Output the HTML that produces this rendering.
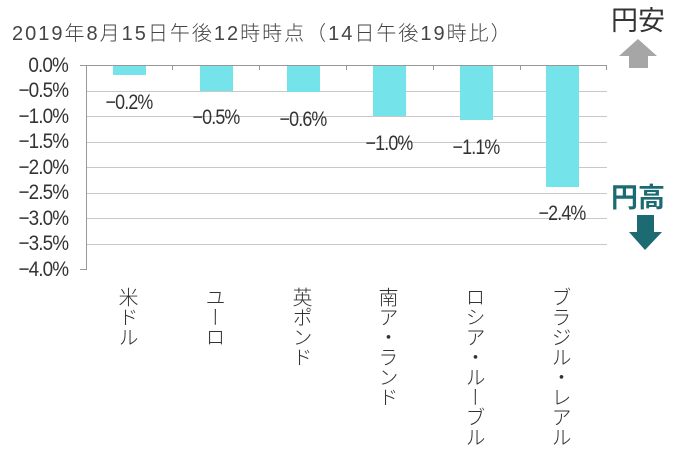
<!DOCTYPE html>
<html><head><meta charset="utf-8"><style>
body{margin:0;background:#fff;width:679px;height:453px;overflow:hidden;position:relative;font-family:"Liberation Sans","Noto Sans CJK JP",sans-serif;color:#333}
.t{position:absolute;white-space:nowrap}
.yl{position:absolute;right:611px;font-size:21px;letter-spacing:-1px;line-height:18px;color:#333;transform:scaleX(0.9);transform-origin:right center}
.g{position:absolute;left:86px;width:521px;height:1px;background:#c8c8c8}
.bar{position:absolute;width:33px;background:#74e3ea;top:66px}
.vl{position:absolute;line-height:21px;width:21px;font-size:20px;top:287px;writing-mode:vertical-rl;font-family:"Noto Sans CJK JP",sans-serif;font-weight:300;color:#333}
.dl{position:absolute;width:80px;text-align:center;font-size:21px;letter-spacing:-1px;color:#333;transform:scaleX(0.85)}
</style></head><body>
<div class="t" style="left:12px;top:17px;font-size:20px;color:#444;letter-spacing:2px;font-family:'Liberation Sans','Noto Sans CJK JP',sans-serif;font-weight:300">2019年8月15日午後12時時点（14日午後19時比）</div>
<div class="t" style="left:611px;top:3px;font-size:27px;color:#333;font-family:'Noto Sans CJK JP',sans-serif;line-height:32px">円安</div>
<svg style="position:absolute;left:619px;top:39px" width="40" height="30"><polygon points="19,0 38,17 29,17 29,29 10,29 10,17 0,17" fill="#a6a6a6"/></svg>
<div class="t" style="left:611px;top:180px;font-size:27px;color:#1c6b72;font-family:'Noto Sans CJK JP',sans-serif;line-height:32px;font-weight:bold">円高</div>
<svg style="position:absolute;left:629px;top:215px" width="34" height="36"><polygon points="8,0 25,0 25,17 33,17 16,35 0,17 8,17" fill="#1c6b72"/></svg>
<div class="g" style="top:91px"></div><div class="g" style="top:116px"></div><div class="g" style="top:142px"></div><div class="g" style="top:167px"></div><div class="g" style="top:193px"></div><div class="g" style="top:218px"></div><div class="g" style="top:244px"></div>
<div style="position:absolute;left:86px;top:65px;width:521px;height:1px;background:#999"></div>
<div style="position:absolute;left:80px;top:269px;width:7px;height:1px;background:#999"></div>
<div style="position:absolute;left:80px;top:65px;width:7px;height:1px;background:#999"></div>
<div style="position:absolute;left:86px;top:65px;width:1px;height:205px;background:#999"></div>
<div style="position:absolute;left:172px;top:65px;width:1px;height:5px;background:#999"></div>
<div style="position:absolute;left:259px;top:65px;width:1px;height:5px;background:#999"></div>
<div style="position:absolute;left:346px;top:65px;width:1px;height:5px;background:#999"></div>
<div style="position:absolute;left:433px;top:65px;width:1px;height:5px;background:#999"></div>
<div style="position:absolute;left:520px;top:65px;width:1px;height:5px;background:#999"></div>
<div style="position:absolute;left:606px;top:65px;width:1px;height:5px;background:#999"></div>
<div class="yl" style="top:57px">0.0%</div><div class="yl" style="top:82px">−0.5%</div><div class="yl" style="top:108px">−1.0%</div><div class="yl" style="top:133px">−1.5%</div><div class="yl" style="top:159px">−2.0%</div><div class="yl" style="top:184px">−2.5%</div><div class="yl" style="top:210px">−3.0%</div><div class="yl" style="top:235px">−3.5%</div><div class="yl" style="top:261px">−4.0%</div>
<div class="bar" style="left:113px;height:9px"></div>
<div class="bar" style="left:200px;height:25px"></div>
<div class="bar" style="left:287px;height:26px"></div>
<div class="bar" style="left:373px;height:50px"></div>
<div class="bar" style="left:460px;height:54px"></div>
<div class="bar" style="left:546px;height:121px"></div>
<div class="dl" style="left:89px;top:91px">−0.2%</div>
<div class="dl" style="left:176px;top:106px">−0.5%</div>
<div class="dl" style="left:263px;top:108px">−0.6%</div>
<div class="dl" style="left:349px;top:132px">−1.0%</div>
<div class="dl" style="left:436px;top:136px">−1.1%</div>
<div class="dl" style="left:522px;top:202px">−2.4%</div>
<div class="vl" style="left:118px">米ドル</div>
<div class="vl" style="left:205px">ユーロ</div>
<div class="vl" style="left:292px">英ポンド</div>
<div class="vl" style="left:378px">南ア・ランド</div>
<div class="vl" style="left:465px">ロシア・ルーブル</div>
<div class="vl" style="left:551px">ブラジル・レアル</div>
</body></html>
